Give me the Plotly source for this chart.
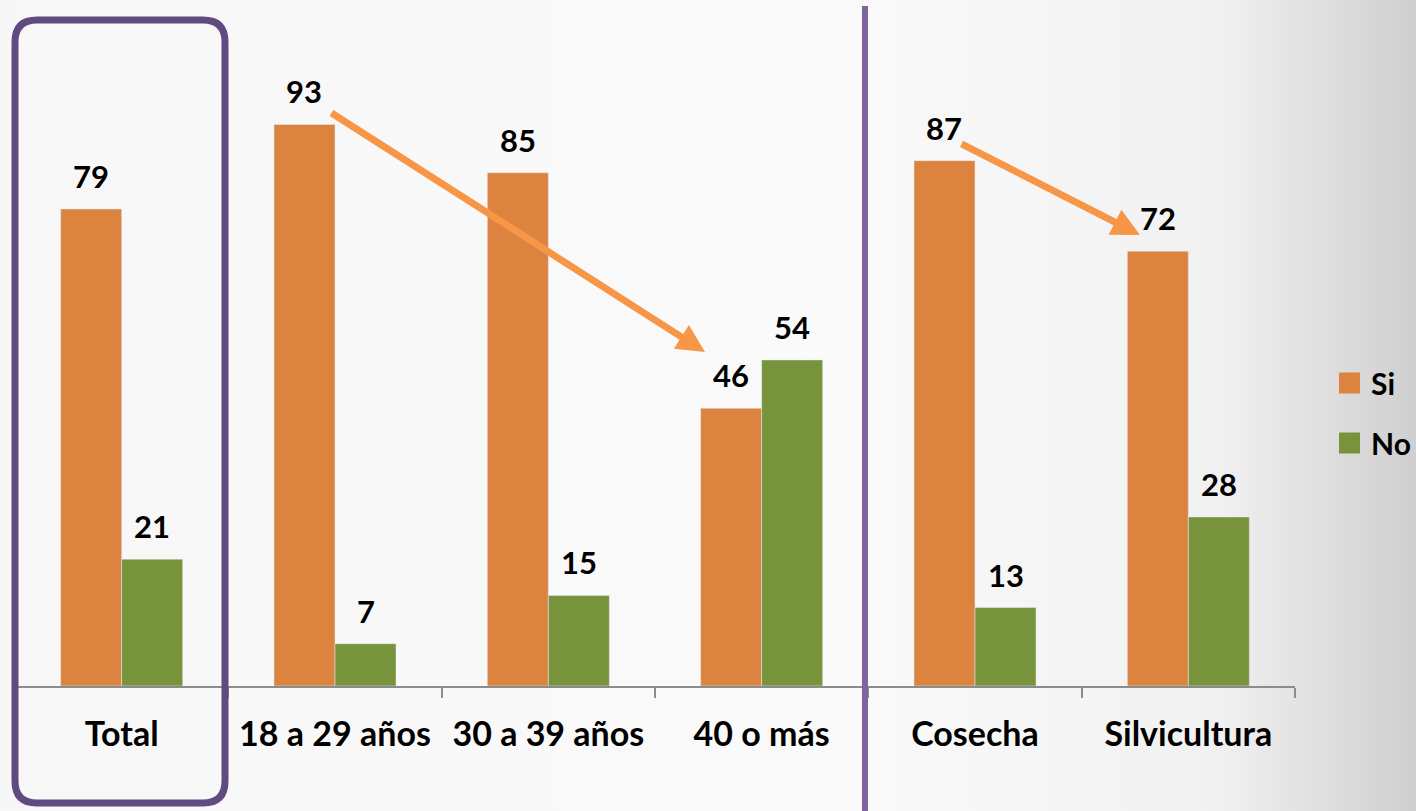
import plotly.graph_objects as go
import base64

categories = ["Total", "18 a 29 años", "30 a 39 años", "40 o más", "Cosecha", "Silvicultura"]
si_values = [79, 93, 85, 46, 87, 72]
no_values = [21, 7, 15, 54, 13, 28]
series_names = ["Si", "No"]
color_si = "#DD8340"
color_no = "#77933C"
arrow_color = "#F79646"

W, H = 1416, 811
L, R, B, T = 15, 121, 125, 0
PW = W - L - R
PH = H - B - T
YMAX = 113.6

FONT = "Lato"

def px(xp):
    return (xp - L) / PW

def py(yp):
    return (H - B - yp) / PH

fig = go.Figure()
fig.add_trace(go.Bar(x=categories, y=si_values, name=series_names[0], marker_color=color_si,
                     showlegend=False))
fig.add_trace(go.Bar(x=categories, y=no_values, name=series_names[1], marker_color=color_no,
                     showlegend=False))

annotations = []
ncat = len(categories)
catw = PW / ncat
barw = catw * (1 - 0.428) / 2
for i, c in enumerate(categories):
    for vals, sh in ((si_values, -barw / 2), (no_values, barw / 2)):
        annotations.append(dict(x=c, y=vals[i], xref="x", yref="y", text="<b>%d</b>" % vals[i],
                                showarrow=False, xshift=sh, yshift=33, yanchor="middle",
                                font=dict(family=FONT, size=31, color="black")))

# arrows (head position, tail offsets in pixels)
for (tx, ty), (hx, hy) in (((330, 112), (705, 352)), ((960, 143), (1140, 235))):
    annotations.append(dict(x=px(hx), y=py(hy), xref="paper", yref="paper", text="",
                            showarrow=True, ax=tx - hx, ay=ty - hy, arrowhead=2, arrowsize=0.8,
                            arrowwidth=7, arrowcolor=arrow_color, standoff=0))

# legend (manual)
for name, col, yc in ((series_names[0], color_si, 383), (series_names[1], color_no, 443)):
    annotations.append(dict(x=px(1369), y=py(yc), xref="paper", yref="paper", text="<b>%s</b>" % name,
                            showarrow=False, xanchor="left", yanchor="middle",
                            font=dict(family=FONT, size=30, color="black")))

shapes = []
for col, yc in ((color_si, 383), (color_no, 443)):
    shapes.append(dict(type="rect", xref="paper", yref="paper", x0=px(1339), x1=px(1360),
                       y0=py(yc + 10.5), y1=py(yc - 10.5), fillcolor=col, line=dict(width=0)))

# vertical purple separator
shapes.append(dict(type="line", xref="paper", yref="paper", x0=px(865), x1=px(865),
                   y0=py(811), y1=py(6), line=dict(color="#8064A2", width=6)))

# rounded rectangle around Total
x0, x1, y0, y1, r = 15, 225, 20, 803, 22
path = (f"M {px(x0 + r)},{py(y0)} L {px(x1 - r)},{py(y0)} Q {px(x1)},{py(y0)} {px(x1)},{py(y0 + r)} "
        f"L {px(x1)},{py(y1 - r)} Q {px(x1)},{py(y1)} {px(x1 - r)},{py(y1)} "
        f"L {px(x0 + r)},{py(y1)} Q {px(x0)},{py(y1)} {px(x0)},{py(y1 - r)} "
        f"L {px(x0)},{py(y0 + r)} Q {px(x0)},{py(y0)} {px(x0 + r)},{py(y0)} Z")
shapes.append(dict(type="path", xref="paper", yref="paper", path=path,
                   line=dict(color="#5F4B80", width=7), fillcolor="rgba(0,0,0,0)"))

# background gradient
svg = (f'<svg xmlns="http://www.w3.org/2000/svg" width="{W}" height="{H}">'
       '<defs><linearGradient id="g" x1="0" y1="0" x2="1" y2="0">'
       '<stop offset="0" stop-color="#f7f7f7"/><stop offset="0.6" stop-color="#fafafa"/>'
       '<stop offset="0.86" stop-color="#f1f1f1"/><stop offset="1" stop-color="#cfcfcf"/>'
       f'</linearGradient></defs><rect width="{W}" height="{H}" fill="url(#g)"/></svg>')
src = "data:image/svg+xml;base64," + base64.b64encode(svg.encode()).decode()

fig.update_layout(
    width=W, height=H, autosize=False,
    margin=dict(l=L, r=R, t=T, b=B, pad=0),
    paper_bgcolor="#f7f7f7", plot_bgcolor="rgba(0,0,0,0)",
    barmode="group", bargap=0.428, bargroupgap=0,
    showlegend=False,
    annotations=annotations, shapes=shapes,
    images=[dict(source=src, xref="paper", yref="paper", x=px(0), y=py(0), sizex=W / PW, sizey=H / PH,
                 xanchor="left", yanchor="top", sizing="stretch", layer="below")],
    font=dict(family=FONT, color="black"),
)
fig.update_xaxes(type="category", tickmode="array", tickvals=categories,
                 ticktext=["<b>%s</b>" % c for c in categories],
                 tickfont=dict(family=FONT, size=34, color="black"),
                 showline=True, linecolor="#8c8c8c", linewidth=1.5,
                 ticks="outside", tickson="boundaries", ticklen=10, tickcolor="#8c8c8c", tickwidth=1.5,
                 ticklabelstandoff=17, showgrid=False, zeroline=False, fixedrange=True)
fig.update_yaxes(range=[0, YMAX], visible=False, showgrid=False, zeroline=False, fixedrange=True)

fig.write_html("out.html")
